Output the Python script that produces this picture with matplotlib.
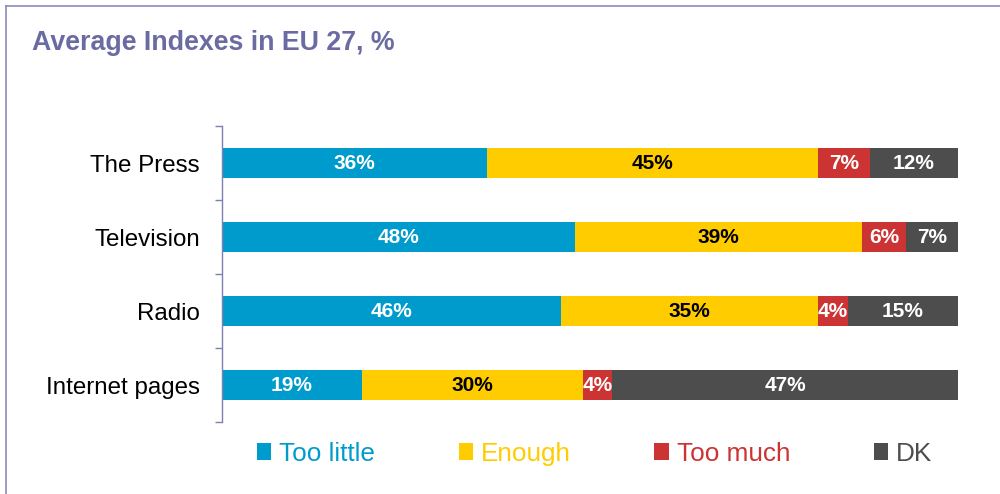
import matplotlib
matplotlib.use("Agg")
import matplotlib.pyplot as plt
from matplotlib.patches import Patch
from matplotlib.lines import Line2D
import numpy as np

plt.rcParams['font.family'] = ['Liberation Sans', 'DejaVu Sans']

categories = ["The Press", "Television", "Radio", "Internet pages"]
series_names = ["Too little", "Enough", "Too much", "DK"]
too_little = [36, 48, 46, 19]
enough = [45, 39, 35, 30]
too_much = [7, 6, 4, 4]
dk = [12, 7, 15, 47]
values = [too_little, enough, too_much, dk]
colors = ["#009BCD", "#FFCC00", "#CC3333", "#4D4D4D"]
label_colors = ["white", "black", "white", "white"]
title = "Average Indexes in EU 27, %"

fig = plt.figure(figsize=(10, 4.94), dpi=100)
ax = fig.add_axes([0.222, 1 - 422 / 494, 0.958 - 0.222, (422 - 126) / 494])

y = np.arange(len(categories))
left = np.zeros(len(categories))
for name, vals, c, lc in zip(series_names, values, colors, label_colors):
    bars = ax.barh(y, vals, left=left, height=0.41, color=c, label=name)
    ax.bar_label(bars, labels=[f"{v}%" for v in vals], label_type='center',
                 color=lc, fontsize=15, fontweight='bold')
    left += np.array(vals)

ax.set_xlim(0, 100)
ax.set_ylim(len(categories) - 0.5, -0.5)
ax.set_yticks(y)
ax.set_yticklabels(categories, fontsize=17.4)
ax.set_yticks(np.arange(-0.5, len(categories), 1), minor=True)
ax.tick_params(axis='y', which='major', length=0, pad=16)
ax.tick_params(axis='y', which='minor', length=5, color='#7F7FB0', width=1)
ax.set_xticks([])
for s in ['top', 'right', 'bottom']:
    ax.spines[s].set_visible(False)
ax.spines['left'].set_color('#7F7FB0')
ax.spines['left'].set_linewidth(1)

handles = [Patch(facecolor=c, edgecolor='none') for c in colors]
leg = fig.legend(handles, series_names, ncol=4, loc='center left',
                 bbox_to_anchor=(0.257, 1 - 454 / 494), frameon=False,
                 fontsize=18.8, handlelength=0.55, handleheight=0.62,
                 handletextpad=0.3, columnspacing=3.2, borderpad=0,
                 borderaxespad=0, labelcolor=colors)

fig.text(0.032, 1 - 50 / 494, title, fontsize=19.3, fontweight='bold',
         color='#6B6BA3', va='baseline', ha='left')

border_c = '#8A8ABD'
fig.add_artist(Line2D([0.0055, 0.0055], [0, 1 - 6 / 494], transform=fig.transFigure,
                      color=border_c, lw=1.2))
fig.add_artist(Line2D([0.0055, 1], [1 - 6 / 494, 1 - 6 / 494], transform=fig.transFigure,
                      color=border_c, lw=1.2))

fig.savefig("out.png", dpi=100)
